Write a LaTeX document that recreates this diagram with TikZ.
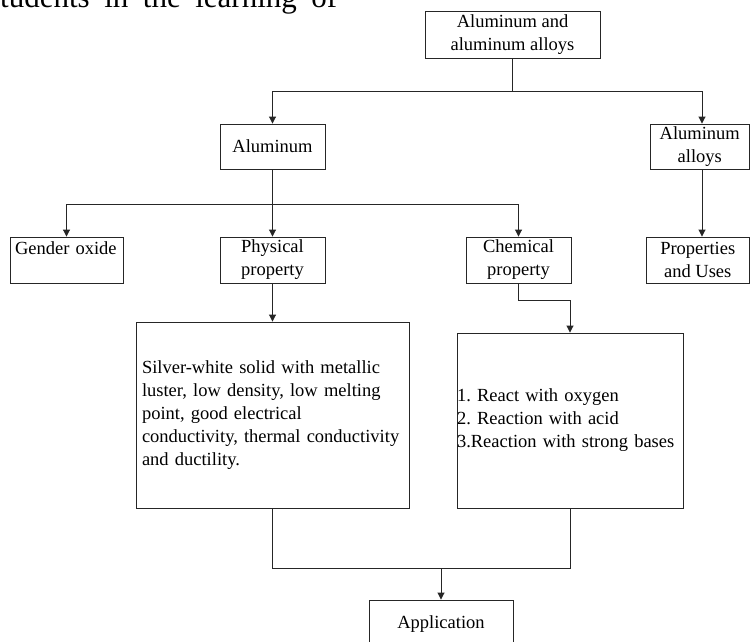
\documentclass[tikz,border=0pt]{standalone}
\usepackage{fontspec}
\setmainfont{Liberation Serif}
\usetikzlibrary{arrows.meta}
\frenchspacing
\begin{document}
\begin{tikzpicture}[x=1pt,y=-1pt,
  box/.style={draw=black!85, line width=0.9pt, inner sep=0pt, align=center,
    font=\fontsize{18.5}{23}\selectfont},
  link/.style={draw=black!85, line width=0.9pt},
  arr/.style={link, -{Triangle[length=7pt,width=7pt]}}]
\useasboundingbox (0,0) rectangle (750,641);
\clip (0,0) rectangle (750,641);
\fill[white] (0,0) rectangle (750,641);

\node[anchor=base west, inner sep=0pt, font=\fontsize{31}{31}\selectfont] (hdr) at (0,7.5)
  {\hbox to 337pt{tudents\hfill in\hfill the\hfill learning\hfill of}};

\node[box, minimum width=175pt, minimum height=47pt] (top) at (512.5,34.5) {Aluminum and\\aluminum alloys};
\node[box, minimum width=105pt, minimum height=45pt] (al) at (272.5,146.5) {Aluminum};
\node[box, minimum width=99.5pt, minimum height=45pt] (alloys) at (699.75,146.5) {Aluminum\\alloys};

\node[box, minimum width=113pt, minimum height=46pt, text width=103pt, align=left] (gender) at (66.5,260) {Gender oxide\\\mbox{}};
\node[box, minimum width=105pt, minimum height=46pt] (phys) at (272.5,260) {Physical\\property};
\node[box, minimum width=105pt, minimum height=46pt] (chem) at (518.5,260) {Chemical\\property};
\node[box, minimum width=103.5pt, minimum height=46pt] (props) at (697.75,260) {Properties\\and Uses};

\node[box, minimum width=273pt, minimum height=186pt, text width=261pt, align=left] (physt) at (272.5,415)
  {Silver-white solid with metallic\\luster, low density, low melting\\point, good electrical\\conductivity, thermal conductivity\\and ductility.};
\node[box, minimum width=226pt, minimum height=175pt, text width=226pt, align=left] (chemt) at (570,420.5)
  {1. React with oxygen\\2. Reaction with acid\\3.Reaction with strong bases};

\node[box, minimum width=144pt, minimum height=48pt] (app) at (441,624) {Application};

\draw[link] (top.south) -- ++(0,33) coordinate (j1);
\draw[arr] (j1) -| (al.north);
\draw[arr] (j1) -| ([xshift=2.25pt]alloys.north);

\draw[link] (al.south) -- ++(0,35) coordinate (j2);
\draw[arr] (j2) -- (phys.north);
\draw[arr] (j2) -| (gender.north);
\draw[arr] (j2) -| (chem.north);

\draw[arr] ([xshift=2.25pt]alloys.south) -- ([xshift=4.25pt]props.north);

\draw[arr] (phys.south) -- (physt.north);
\draw[arr] (chem.south) -- ++(0,17) -| (chemt.north);

\draw[link] (physt.south) -- ++(0,60) coordinate (j3) -| (chemt.south);
\draw[arr] (j3 -| app.north) -- (app.north);
\end{tikzpicture}
\end{document}
